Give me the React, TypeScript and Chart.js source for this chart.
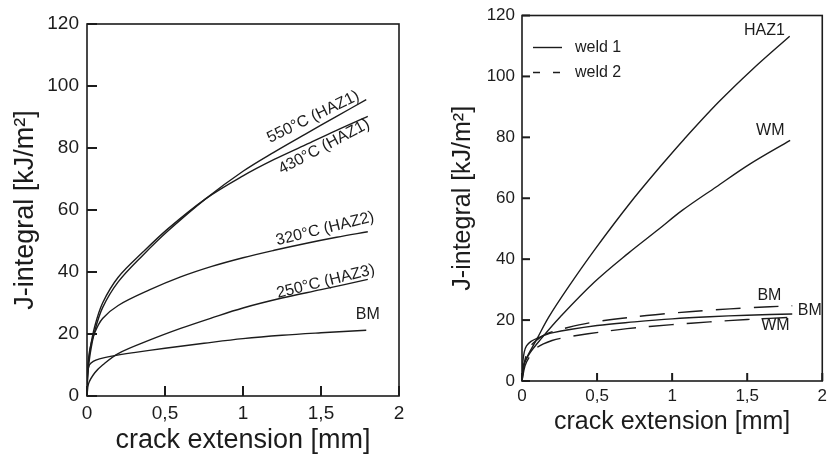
import React, { useEffect, useRef } from 'react';
import { Chart, registerables } from 'chart.js';

Chart.register(...registerables);

const FONT = '"Liberation Sans", Arial, Helvetica, sans-serif';
const INK = '#1c1c1c';

// ---------- axis ticks ----------
const xTickValues = [0, 0.5, 1, 1.5, 2];
const xTickLabels = ['0', '0,5', '1', '1,5', '2'];
const yTickValues = [0, 20, 40, 60, 80, 100, 120];
const yTickLabels = ['0', '20', '40', '60', '80', '100', '120'];

const xTitle = 'crack extension [mm]';
const yTitle = 'J-integral [kJ/m²]';

// ---------- left chart: crack extension (mm) / J-integral (kJ/m²) ----------
const x550 = [0, 0.005, 0.02, 0.05, 0.1, 0.2, 0.36, 0.52, 0.76, 1.0, 1.2, 1.4, 1.6, 1.79];
const j550 = [0, 7, 13.5, 21, 28.5, 36.8, 45.5, 53.3, 63.6, 72.5, 78.7, 84.5, 90.2, 95.6];

const x430 = [0, 0.005, 0.02, 0.05, 0.1, 0.2, 0.36, 0.52, 0.76, 1.0, 1.2, 1.4, 1.6, 1.8];
const j430 = [0, 8, 15, 22.5, 30, 38.3, 46.5, 54, 63.6, 71, 76.3, 81, 85.7, 90.2];

const x320 = [0, 0.005, 0.02, 0.05, 0.1, 0.2, 0.4, 0.6, 0.8, 1.0, 1.2, 1.4, 1.6, 1.8];
const j320 = [0, 9, 15.5, 20.5, 25, 29.2, 34.2, 38.4, 41.8, 44.6, 47, 49.2, 51.2, 53];

const x250 = [0, 0.01, 0.05, 0.1, 0.2, 0.4, 0.6, 0.8, 1.0, 1.25, 1.5, 1.8];
const j250 = [0, 4, 7.5, 10, 13.7, 18, 21.8, 25.2, 28.4, 31.6, 34.3, 37.6];

const xBMleft = [0, 0.005, 0.015, 0.04, 0.08, 0.15, 0.3, 0.5, 0.75, 1.0, 1.25, 1.5, 1.79];
const jBMleft = [0, 7.5, 10, 11.2, 12, 12.8, 14, 15.4, 17, 18.5, 19.6, 20.4, 21.2];

const leftLabelText = ['550°C (HAZ1)', '430°C (HAZ1)', '320°C (HAZ2)', '250°C (HAZ3)', 'BM'];
const leftLabelX = [1.45, 1.52, 1.526, 1.53, 1.8];
const leftLabelY = [90.0, 80.4, 53.9, 36.9, 26.1];
const leftLabelAngle = [-26, -28, -14, -14, 0];

// ---------- right chart ----------
const xHAZ1w1 = [0, 0.01, 0.04, 0.095, 0.177, 0.304, 0.487, 0.716, 0.921, 1.08, 1.308, 1.534, 1.783];
const jHAZ1w1 = [0, 4.9, 8.5, 13.4, 20.9, 30.5, 43.3, 58.2, 70.4, 79.4, 91.5, 102.3, 113.2];

const xWMw1 = [0, 0.01, 0.05, 0.128, 0.254, 0.481, 0.707, 0.91, 1.067, 1.293, 1.517, 1.786];
const jWMw1 = [0, 5, 9, 13.9, 21.0, 32.4, 41.9, 49.8, 56.0, 63.7, 71.2, 79.0];

const xBMw1 = [0, 0.005, 0.015, 0.03, 0.06, 0.1, 0.2, 0.5, 0.75, 1.0, 1.25, 1.5, 1.8];
const jBMw1 = [0, 6, 9.5, 11.5, 13, 14, 15.8, 18.2, 19.4, 20.4, 21.1, 21.6, 22.0];

const xBMw2 = [0, 0.02, 0.05, 0.1, 0.163, 0.3, 0.5, 0.83, 1.0, 1.27, 1.5, 1.8];
const jBMw2 = [0, 7, 11, 13.5, 15.5, 17.5, 19.5, 21.5, 22.3, 23.3, 24.0, 24.7];

const xWMw2 = [0, 0.02, 0.05, 0.1, 0.2, 0.3, 0.44, 0.7, 1.0, 1.25, 1.5, 1.8];
const jWMw2 = [0, 5, 8, 11, 13.3, 14.4, 15.5, 17.2, 18.5, 19.4, 20.2, 20.9];

const rightLabelText = ['HAZ1', 'WM', 'BM', 'BM', 'WM'];
const rightLabelX = [1.615, 1.654, 1.648, 1.917, 1.688];
const rightLabelY = [115.0, 82.1, 28.0, 23.0, 18.2];
const rightLabelAngle = [0, 0, 0, 0, 0];

const legendNames = ['weld 1', 'weld 2'];

const DASH = [25, 13];

function series(xs: number[], ys: number[], label: string, dash: number[] = []) {
  return {
    label,
    data: xs.map((x, i) => ({ x, y: ys[i] })),
    showLine: true,
    borderColor: INK,
    borderWidth: 1.4,
    borderDash: dash,
    pointRadius: 0,
    fill: false,
    tension: 0.35,
  };
}

function makeFramePlugin(opts: any) {
  return {
    id: 'frame',
    afterDraw(chart: any) {
      const ctx: CanvasRenderingContext2D = chart.ctx;
      const { left, right, top, bottom } = chart.chartArea;
      const xs = chart.scales.x;
      const ys = chart.scales.y;
      ctx.save();
      ctx.setLineDash([]);
      ctx.strokeStyle = INK;
      ctx.fillStyle = INK;
      ctx.lineWidth = opts.frameWidth;
      ctx.strokeRect(left, top, right - left, bottom - top);

      // inward tick marks
      const tw = 2;
      for (let i = 0; i < xTickValues.length; i++) {
        const px = xs.getPixelForValue(xTickValues[i]);
        ctx.fillRect(px - tw / 2, bottom - opts.tick, tw, opts.tick);
      }
      for (let i = 0; i < yTickValues.length; i++) {
        const py = ys.getPixelForValue(yTickValues[i]);
        ctx.fillRect(left, py - tw / 2, opts.tick, tw);
      }

      // curve labels
      ctx.font = `${opts.labelSize}px ${FONT}`;
      ctx.textAlign = 'center';
      ctx.textBaseline = 'middle';
      opts.labels.text.forEach((txt: string, i: number) => {
        const px = xs.getPixelForValue(opts.labels.x[i]);
        const py = ys.getPixelForValue(opts.labels.y[i]);
        ctx.save();
        ctx.translate(px, py);
        ctx.rotate((opts.labels.angle[i] * Math.PI) / 180);
        ctx.fillText(txt, 0, 0);
        ctx.restore();
      });

      // legend
      if (opts.legend) {
        const lg = opts.legend;
        ctx.font = `${lg.size}px ${FONT}`;
        ctx.textAlign = 'left';
        lg.names.forEach((name: string, i: number) => {
          const y = top + lg.top + i * lg.gap;
          const x0 = left + lg.left;
          ctx.beginPath();
          ctx.lineWidth = 1.4;
          ctx.setLineDash(lg.dashes[i]);
          ctx.moveTo(x0, y);
          ctx.lineTo(x0 + lg.lineLen, y);
          ctx.stroke();
          ctx.setLineDash([]);
          ctx.fillText(name, x0 + lg.lineLen + lg.textGap, y);
        });
      }
      ctx.restore();
    },
  };
}

function buildConfig(p: any) {
  return {
    type: 'scatter',
    data: { datasets: p.datasets },
    plugins: [makeFramePlugin(p.frame)],
    options: {
      animation: false,
      responsive: false,
      maintainAspectRatio: false,
      layout: { padding: p.padding },
      plugins: {
        legend: { display: false },
        tooltip: { enabled: false },
      },
      scales: {
        x: {
          type: 'linear',
          min: 0,
          max: 2,
          afterBuildTicks: (s: any) => {
            s.ticks = xTickValues.map((v) => ({ value: v }));
          },
          ticks: {
            callback: (_v: any, i: number) => xTickLabels[i],
            font: { family: FONT, size: p.tickSize },
            color: INK,
            padding: p.xTickPad,
            maxRotation: 0,
            autoSkip: false,
          },
          grid: { display: false, drawTicks: false },
          border: { display: false },
          title: {
            display: true,
            text: xTitle,
            color: INK,
            font: { family: FONT, size: p.titleSize, lineHeight: 1.2 },
            padding: { top: 0, bottom: p.xTitlePad },
          },
          afterFit: (s: any) => {
            s.height = p.xAxisHeight;
          },
        },
        y: {
          type: 'linear',
          min: 0,
          max: 120,
          afterBuildTicks: (s: any) => {
            s.ticks = yTickValues.map((v) => ({ value: v }));
          },
          ticks: {
            callback: (_v: any, i: number) => yTickLabels[i],
            font: { family: FONT, size: p.tickSize, lineHeight: 1 },
            color: INK,
            padding: p.yTickPad,
            autoSkip: false,
          },
          grid: { display: false, drawTicks: false },
          border: { display: false },
          title: {
            display: true,
            text: yTitle,
            color: INK,
            font: { family: FONT, size: p.titleSize, lineHeight: 1.2 },
            padding: { top: p.yTitlePad, bottom: 0 },
          },
          afterFit: (s: any) => {
            s.width = p.yAxisWidth;
          },
        },
      },
    },
  };
}

const leftConfig = () =>
  buildConfig({
    datasets: [
      series(x550, j550, '550°C (HAZ1)'),
      series(x430, j430, '430°C (HAZ1)'),
      series(x320, j320, '320°C (HAZ2)'),
      series(x250, j250, '250°C (HAZ3)'),
      series(xBMleft, jBMleft, 'BM'),
    ],
    padding: { left: 0, right: 21, top: 24, bottom: 0 },
    tickSize: 19,
    titleSize: 27,
    xTickPad: 6,
    yTickPad: 8,
    xTitlePad: 4,
    yTitlePad: 9,
    xAxisHeight: 65,
    yAxisWidth: 87,
    frame: {
      frameWidth: 1.6,
      tick: 10,
      labelSize: 16,
      labels: { text: leftLabelText, x: leftLabelX, y: leftLabelY, angle: leftLabelAngle },
      legend: null,
    },
  });

const rightConfig = () =>
  buildConfig({
    datasets: [
      series(xHAZ1w1, jHAZ1w1, 'HAZ1 weld 1'),
      series(xWMw1, jWMw1, 'WM weld 1'),
      series(xBMw1, jBMw1, 'BM weld 1'),
      series(xBMw2, jBMw2, 'BM weld 2', DASH),
      series(xWMw2, jWMw2, 'WM weld 2', DASH),
    ],
    padding: { left: 0, right: 9, top: 11, bottom: 0 },
    tickSize: 17,
    titleSize: 25,
    xTickPad: 5,
    yTickPad: 7,
    xTitlePad: 24,
    yTitlePad: 28,
    xAxisHeight: 80,
    yAxisWidth: 102,
    frame: {
      frameWidth: 1.6,
      tick: 8,
      labelSize: 16,
      labels: { text: rightLabelText, x: rightLabelX, y: rightLabelY, angle: rightLabelAngle },
      legend: {
        names: legendNames,
        dashes: [[], [7, 13]],
        size: 16,
        left: 11,
        top: 32,
        gap: 25,
        lineLen: 29,
        textGap: 13,
      },
    },
  });

function ChartCanvas({ make, width, height }: { make: () => any; width: number; height: number }) {
  const ref = useRef<HTMLCanvasElement>(null);
  useEffect(() => {
    const chart = new Chart(ref.current as HTMLCanvasElement, make());
    return () => chart.destroy();
  }, []);
  return <canvas ref={ref} width={width} height={height} style={{ display: 'block', width, height }} />;
}

export default function App() {
  return (
    <div
      style={{
        position: 'absolute',
        left: 0,
        top: 0,
        width: 832,
        height: 461,
        background: '#ffffff',
        display: 'flex',
        overflow: 'hidden',
      }}
    >
      <ChartCanvas make={leftConfig} width={420} height={461} />
      <ChartCanvas make={rightConfig} width={412} height={461} />
    </div>
  );
}
